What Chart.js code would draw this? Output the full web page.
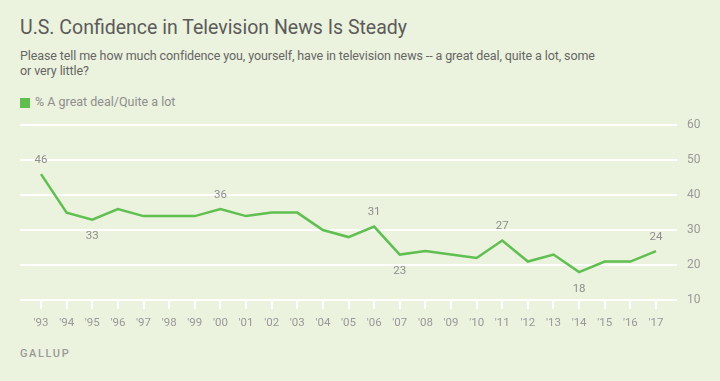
<!DOCTYPE html>
<html>
<head>
<meta charset="utf-8">
<script src="https://cdn.jsdelivr.net/npm/chart.js@4"></script>
<style>
  html, body { margin:0; padding:0; background:#EBF2DD; width:720px; height:381px; overflow:hidden; }
  body { position:relative; font-family:"Roboto",sans-serif; }
  #title { position:absolute; left:20px; top:17.5px; font-size:19.5px; line-height:19.5px; color:#5b5b5b; white-space:nowrap; }
  #sub { position:absolute; left:20px; top:47.5px; font-size:12.5px; line-height:15px; color:#666; white-space:nowrap; letter-spacing:-0.1px; }
  #legend { position:absolute; left:20px; top:96px; font-size:12.5px; line-height:12.5px; color:#8e8e8e; white-space:nowrap; }
  #legend span.sw { position:absolute; left:0; top:2px; width:9.5px; height:9.5px; background:#60BE50; }
  #legend span.tx { position:absolute; left:15px; top:0; }
  #foot { position:absolute; left:20px; top:347.5px; font-size:11px; line-height:11px; font-weight:500; color:#9a9a9a; letter-spacing:1.6px; }
  #wrap { position:absolute; left:0; top:108px; width:720px; height:242px; }
</style>
</head>
<body>
<div id="title">U.S. Confidence in Television News Is Steady</div>
<div id="sub">Please tell me how much confidence you, yourself, have in television news -- a great deal, quite a lot, some<br>or very little?</div>
<div id="legend"><span class="sw"></span><span class="tx">% A great deal/Quite a lot</span></div>
<div id="foot">GALLUP</div>
<div id="wrap"><canvas id="c"></canvas></div>
<script>
const years = ["'93","'94","'95","'96","'97","'98","'99","'00","'01","'02","'03","'04","'05","'06","'07","'08","'09","'10","'11","'12","'13","'14","'15","'16","'17"];
const confidence = [46,35,33,36,34,34,34,36,34,35,35,30,28,31,23,24,23,22,27,21,23,18,21,21,24];
const labelAbove = [0,7,13,18,24];
const labelBelow = [2,14,21];
const yTicks = [10,20,30,40,50,60];

const pointLabels = {
  id:'pointLabels',
  afterDatasetsDraw(chart){
    const ctx = chart.ctx;
    const meta = chart.getDatasetMeta(0);
    ctx.save();
    ctx.font = '11.5px Roboto, sans-serif';
    ctx.fillStyle = '#8e8e8e';
    ctx.textAlign = 'center';
    ctx.textBaseline = 'middle';
    labelAbove.forEach(i => { const p = meta.data[i]; ctx.fillText(String(confidence[i]), p.x, p.y - 14); });
    labelBelow.forEach(i => { const p = meta.data[i]; ctx.fillText(String(confidence[i]), p.x, p.y + 17); });
    ctx.restore();
  }
};

new Chart(document.getElementById('c'), {
  type:'line',
  data:{ datasets:[{ data: confidence.map((v,i)=>({x:i,y:v})), borderColor:'#5FBF50', borderWidth:2.5, pointRadius:0, tension:0, fill:false }] },
  options:{
    responsive:true, maintainAspectRatio:false, animation:false,
    layout:{ padding:{ left:20, right:0, top:13, bottom:0 } },
    plugins:{ legend:{display:false}, tooltip:{enabled:false} },
    scales:{
      x:{ type:'linear', min:-0.82, max:24.82,
          afterBuildTicks: s => { s.ticks = years.map((_,i)=>({value:i})); },
          afterFit: s => { s.height = 50; },
          grid:{ drawOnChartArea:false, drawTicks:true, tickLength:9, color:'#ffffff', lineWidth:2 },
          border:{ display:false },
          ticks:{ callback:(v)=>years[v] ?? '', color:'#999', font:{ size:11.5, family:'Roboto, sans-serif' }, padding:7, maxRotation:0, autoSkip:false } },
      y:{ position:'right', min:10, max:60,
          afterBuildTicks: s => { s.ticks = yTicks.map(v=>({value:v})); },
          afterFit: s => { s.width = 43; },
          grid:{ color:'#ffffff', lineWidth:2, drawTicks:false },
          border:{ display:false },
          ticks:{ color:'#999', font:{ size:12, family:'Roboto, sans-serif' }, padding:10 } }
    }
  },
  plugins:[pointLabels]
});
</script>
</body>
</html>
